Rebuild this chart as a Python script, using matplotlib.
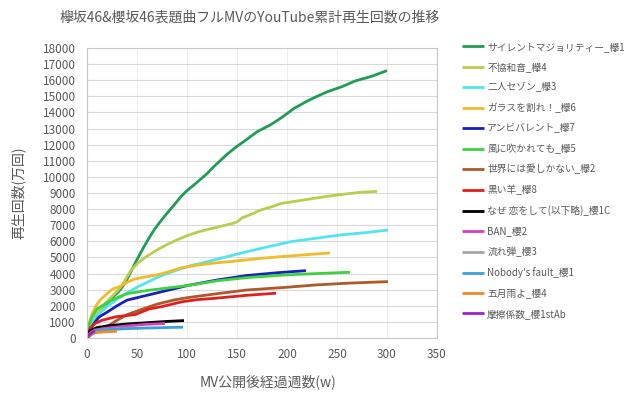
import numpy as np
import matplotlib
matplotlib.use('Agg')
import matplotlib.pyplot as plt

plt.rcParams['font.family'] = ['Noto Sans CJK JP', 'DejaVu Sans']

# series: (label, color, weeks, values in 万回)
labels = ['サイレントマジョリティー_欅1', '不協和音_欅4', '二人セゾン_欅3', 'ガラスを割れ！_欅6',
          'アンビバレント_欅7', '風に吹かれても_欅5', '世界には愛しかない_欅2', '黒い羊_欅8',
          'なぜ 恋をして(以下略)_櫻1C', 'BAN_櫻2', '流れ弾_櫻3', "Nobody's fault_櫻1",
          '五月雨よ_櫻4', '摩擦係数_櫻1stAb']
colors = ['#1f9d55', '#bccc4e', '#4fe6f0', '#f0bc28', '#1a1fc0', '#3fd23f', '#b0582a',
          '#e02020', '#000000', '#d93fc3', '#a6a6a6', '#3aa0d8', '#f08a28', '#9a22c8']

w_silent = [0, 3, 7, 13, 20, 26, 32, 38, 43, 48, 52, 57, 62, 67, 73, 80, 87, 94, 100, 107,
            120, 127, 140, 150, 157, 170, 184, 195, 207, 220, 230, 241, 255, 268, 285, 300]
v_silent = [0, 600, 1100, 1600, 2100, 2550, 2900, 3400, 4000, 4630, 5100, 5670, 6200, 6700,
            7200, 7740, 8250, 8780, 9150, 9500, 10200, 10650, 11400, 11900, 12200, 12800,
            13250, 13700, 14250, 14700, 15000, 15300, 15600, 15950, 16250, 16600]

w_fukyowa = [0, 3, 8, 15, 22, 30, 36, 40, 44, 50, 57, 65, 73, 80, 90, 100, 112, 125, 135,
             145, 150, 155, 163, 174, 185, 194, 210, 225, 241, 260, 275, 290]
v_fukyowa = [0, 700, 1300, 1900, 2400, 2900, 3350, 3800, 4200, 4600, 4950, 5280, 5570, 5800,
             6090, 6350, 6600, 6800, 6950, 7100, 7200, 7450, 7650, 7950, 8150, 8350, 8500,
             8650, 8800, 8950, 9050, 9100]

w_futari = [0, 3, 7, 12, 20, 30, 40, 50, 60, 70, 80, 94, 104, 115, 127, 140, 160, 180, 204,
            230, 254, 280, 301]
v_futari = [0, 600, 1100, 1500, 1950, 2400, 2800, 3150, 3450, 3750, 4000, 4300, 4500, 4650,
            4840, 5050, 5360, 5650, 5980, 6200, 6400, 6550, 6700]

w_glass = [0, 2, 5, 9, 13, 20, 26, 33, 40, 47, 55, 60, 70, 80, 94, 110, 127, 144, 160, 175,
           194, 215, 243]
v_glass = [0, 900, 1500, 2000, 2350, 2750, 3050, 3200, 3450, 3650, 3750, 3800, 3920, 4080,
           4350, 4520, 4650, 4750, 4850, 4950, 5050, 5150, 5280]

w_ambi = [0, 3, 7, 12, 20, 30, 40, 50, 60, 80, 100, 130, 160, 190, 219]
v_ambi = [0, 500, 900, 1300, 1600, 2000, 2350, 2500, 2650, 2950, 3250, 3600, 3880, 4050, 4180]

w_kaze = [0, 2, 5, 10, 20, 30, 40, 60, 80, 100, 130, 160, 200, 230, 263]
v_kaze = [0, 800, 1300, 1800, 2200, 2500, 2750, 2950, 3100, 3250, 3550, 3750, 3920, 4000, 4080]

w_sekai = [0, 5, 10, 20, 30, 40, 53, 70, 87, 100, 130, 160, 200, 228, 260, 301]
v_sekai = [0, 250, 400, 700, 1100, 1450, 1740, 2100, 2360, 2500, 2750, 2980, 3150, 3290,
           3400, 3500]

w_kuroi = [0, 3, 8, 15, 29, 48, 62, 75, 95, 110, 127, 160, 189]
v_kuroi = [0, 600, 900, 1100, 1320, 1450, 1800, 1950, 2250, 2380, 2460, 2650, 2780]

w_naze = [0, 3, 10, 20, 40, 60, 80, 97]
v_naze = [0, 450, 650, 750, 870, 950, 1030, 1080]

w_ban = [0, 3, 8, 20, 40, 60, 78]
v_ban = [0, 300, 500, 620, 750, 850, 900]

w_nagare = [0, 5, 15, 30, 45]
v_nagare = [0, 350, 500, 580, 620]

w_nobody = [0, 3, 8, 20, 40, 60, 80, 96]
v_nobody = [0, 250, 450, 520, 580, 620, 650, 670]

w_samidare = [0, 3, 8, 15, 30]
v_samidare = [0, 200, 330, 370, 420]

w_masatsu = [0, 2, 5, 8]
v_masatsu = [0, 180, 330, 420]

weeks = [w_silent, w_fukyowa, w_futari, w_glass, w_ambi, w_kaze, w_sekai, w_kuroi,
         w_naze, w_ban, w_nagare, w_nobody, w_samidare, w_masatsu]
values = [v_silent, v_fukyowa, v_futari, v_glass, v_ambi, v_kaze, v_sekai, v_kuroi,
          v_naze, v_ban, v_nagare, v_nobody, v_samidare, v_masatsu]


# plot:
fig = plt.figure(figsize=(6.4, 3.98), dpi=100)
ax = fig.add_axes([87/640, 1-338/398, 350/640, 290/398])

for ww, vv, cc, ll in zip(weeks, values, colors, labels):
    ax.plot(ww, vv, color=cc, lw=2.0, label=ll, solid_capstyle='butt')

ax.set_xlim(0, 350)
ax.set_ylim(0, 18000)
ax.set_xticks(np.arange(0, 351, 50))
ax.set_yticks(np.arange(0, 18001, 1000))
ax.grid(axis='y', color='#d9d9d9', lw=0.8)
ax.grid(axis='x', color='#efefef', lw=0.8)
ax.set_axisbelow(True)
for sp in ax.spines.values():
    sp.set_color('#c8c8c8')
    sp.set_linewidth(0.8)
ax.tick_params(length=0, labelsize=8.5, labelcolor='#595959')
ax.tick_params(axis='y', pad=8)
ax.tick_params(axis='x', pad=7)

fig.text(250/640, 1-18/398, '欅坂46&櫻坂46表題曲フルMVのYouTube累計再生回数の推移',
         ha='center', va='center', fontsize=10, color='#595959')
fig.text(268/640, 1-382/398, 'MV公開後経過週数(w)', ha='center', va='center',
         fontsize=10, color='#595959')
fig.text(18/640, 1-193/398, '再生回数(万回)', ha='center', va='center', rotation=90,
         fontsize=10, color='#595959')

leg = ax.legend(loc='upper left', bbox_to_anchor=(458/640, 1-38/398),
                bbox_transform=fig.transFigure, frameon=False, fontsize=7,
                handlelength=2.3, handletextpad=0.3, labelspacing=1.05,
                borderaxespad=0)
for t in leg.get_texts():
    t.set_color('#595959')

fig.savefig('out.png', dpi=100)
